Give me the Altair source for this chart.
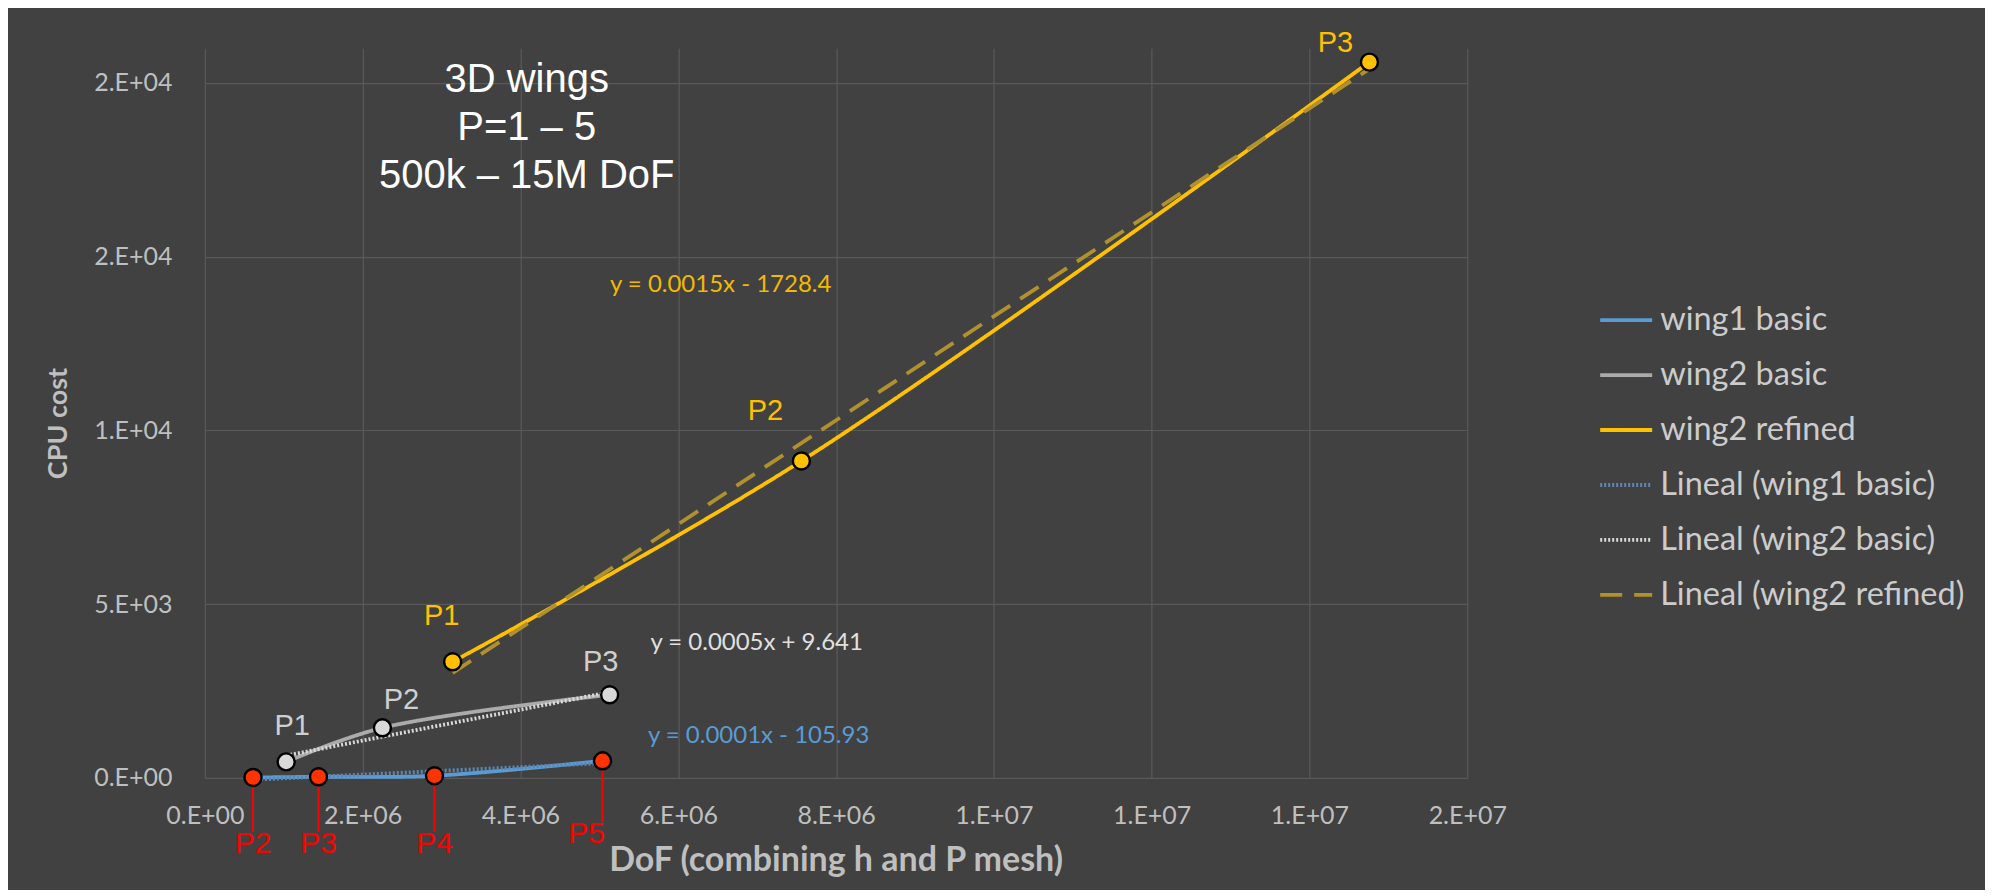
import altair as alt
import pandas as pd

# ---------------- data ----------------
series_names = ["wing1 basic", "wing2 basic", "wing2 refined"]
trend_names = ["Lineal (wing1 basic)", "Lineal (wing2 basic)", "Lineal (wing2 refined)"]

wing1_x = [0.61e6, 1.44e6, 2.91e6, 5.04e6]
wing1_y = [10, 30, 60, 490]
wing1_pts = ["P2", "P3", "P4", "P5"]

wing2_x = [1.03e6, 2.25e6, 5.13e6]
wing2_y = [460, 1440, 2390]
wing2_pts = ["P1", "P2", "P3"]

ref_x = [3.14e6, 7.56e6, 14.76e6]
ref_y = [3340, 9120, 20600]
ref_pts = ["P1", "P2", "P3"]

equations = ["y = 0.0001x - 105.93", "y = 0.0005x + 9.641", "y = 0.0015x - 1728.4"]
title_lines = ["3D wings", "P=1 \u2013 5", "500k \u2013 15M DoF"]

x_ticks = [0, 2e6, 4e6, 6e6, 8e6, 1e7, 1.2e7, 1.4e7, 1.6e7]
x_tick_labels = ["0.E+00", "2.E+06", "4.E+06", "6.E+06", "8.E+06", "1.E+07", "1.E+07", "1.E+07", "2.E+07"]
y_ticks = [0, 5000, 10000, 15000, 20000]
y_tick_labels = ["0.E+00", "5.E+03", "1.E+04", "2.E+04", "2.E+04"]

# ---------------- styling ----------------
BG = "#414141"
GRID = "#5a5a5a"
AXIS_TXT = "#BFBFBF"
legend_domain = series_names + trend_names
legend_colors = ["#5B9BD5", "#ABABAB", "#FFC000", "#5E86B3", "#D9D9D9", "#B0912E"]
legend_dash = [[1, 0], [1, 0], [1, 0], [2, 2], [2, 2], [22, 12]]
legend_width = [3.8, 3.8, 3.8, 1.5, 1.5, 3.5]
fill_colors = ["#FF3300", "#D9D9D9", "#FFC000"]

rows = []
for name, xs, ys, pts in [(series_names[0], wing1_x, wing1_y, wing1_pts),
                          (series_names[1], wing2_x, wing2_y, wing2_pts),
                          (series_names[2], ref_x, ref_y, ref_pts)]:
    for xv, yv, p in zip(xs, ys, pts):
        rows.append({"series": name, "x": xv, "y": yv, "pt": p})
df = pd.DataFrame(rows)


def label_expr(vals, labels):
    parts = []
    for v, l in zip(vals, labels):
        parts.append(f"abs(datum.value - {v}) < 1 ? '{l}'")
    return " : ".join(parts) + " : ''"


x_enc = alt.X("x:Q", scale=alt.Scale(domain=[0, 1.6e7], nice=False, zero=False),
              axis=alt.Axis(values=x_ticks, labelExpr=label_expr(x_ticks, x_tick_labels),
                            title="DoF (combining h and P mesh)", grid=True, domain=False, ticks=False,
                            labelFlush=False, labelOverlap=False,
                            labelPadding=26, labelFontSize=25, labelFont="Lato", labelColor=AXIS_TXT,
                            gridColor=GRID, gridWidth=1.2, titleFont="Lato", titleFontSize=34,
                            titleFontWeight="bold", titleColor=AXIS_TXT, titleX=631, titleY=83,
                            titleBaseline="middle", titleAlign="center"))
y_enc = alt.Y("y:Q", scale=alt.Scale(domain=[0, 21000], nice=False, zero=False),
              axis=alt.Axis(values=y_ticks, labelExpr=label_expr(y_ticks, y_tick_labels),
                            title="CPU  cost", grid=True, domain=False, ticks=False,
                            labelFlush=False, labelOverlap=False,
                            labelPadding=33, labelFontSize=25, labelFont="Lato", labelColor=AXIS_TXT,
                            gridColor=GRID, gridWidth=1.2, titleFont="Lato", titleFontSize=27,
                            titleFontWeight="bold", titleColor=AXIS_TXT, titleX=-146, titleY=375,
                            titleBaseline="middle", titleAlign="center", titleAngle=270))

leg = alt.Legend(title=None, orient="none", legendX=1394, legendY=244, symbolType="stroke",
                 symbolSize=2704, rowPadding=10, labelOffset=6, padding=0, labelFont="Lato",
                 labelFontSize=32.5, labelColor="#CCCCCC", labelLimit=600)

color_enc = alt.Color("series:N", scale=alt.Scale(domain=legend_domain, range=legend_colors), legend=leg)
dash_enc = alt.StrokeDash("series:N", scale=alt.Scale(domain=legend_domain, range=legend_dash), legend=leg)
width_enc = alt.StrokeWidth("series:N", scale=alt.Scale(domain=legend_domain, range=legend_width), legend=leg)

base = alt.Chart(df)

lines = base.mark_line(interpolate="catmull-rom").encode(
    x=x_enc, y=y_enc, color=color_enc, strokeDash=dash_enc, strokeWidth=width_enc)

trends = base.transform_regression("x", "y", groupby=["series"], method="linear").transform_calculate(
    series="'Lineal (' + datum.series + ')'"
).mark_line().encode(x=x_enc, y=y_enc, color=color_enc, strokeDash=dash_enc, strokeWidth=width_enc)

w1 = base.transform_filter(alt.datum.series == series_names[0])
w2 = base.transform_filter(alt.datum.series == series_names[1])
rf = base.transform_filter(alt.datum.series == series_names[2])

red_rules = w1.transform_filter(alt.datum.pt != "P5").mark_rule(color="#FF0000", strokeWidth=2).encode(
    x=x_enc, y=y_enc, y2=alt.value(784))
red_rule5 = w1.transform_filter(alt.datum.pt == "P5").mark_rule(color="#FF0000", strokeWidth=2).encode(
    x=x_enc, y=y_enc, y2=alt.value(774))

points = base.mark_point(shape="circle", filled=True, size=290, stroke="black", strokeWidth=2.4,
                         opacity=1).encode(
    x=x_enc, y=y_enc,
    fill=alt.Fill("series:N", scale=alt.Scale(domain=series_names, range=fill_colors), legend=None))

PFONT = "Liberation Sans"

red_labels = w1.transform_filter(alt.datum.pt != "P5").mark_text(
    font=PFONT, fontSize=30, color="#FF0000", align="center", baseline="middle").encode(
    x=x_enc, y=alt.value(796), text="pt:N")
red_label5 = w1.transform_filter(alt.datum.pt == "P5").mark_text(
    font=PFONT, fontSize=30, color="#FF0000", align="center", baseline="middle", dx=-16).encode(
    x=x_enc, y=alt.value(786), text="pt:N")


def pt_label(src, p, dx, dy, color):
    return src.transform_filter(alt.datum.pt == p).mark_text(
        font=PFONT, fontSize=29, color=color, align="center", baseline="middle", dx=dx, dy=dy).encode(
        x=x_enc, y=y_enc, text="pt:N")


GRAYTXT = "#CFCFCF"
GOLD = "#FFC000"
pt_labels = [
    pt_label(w2, "P1", 6, -36, GRAYTXT),
    pt_label(w2, "P2", 19, -28, GRAYTXT),
    pt_label(w2, "P3", -9, -33, GRAYTXT),
    pt_label(rf, "P1", -11, -46, GOLD),
    pt_label(rf, "P2", -36, -50, GOLD),
    pt_label(rf, "P3", -34, -19, GOLD),
]

eq_colors = ["#5B9BD5", "#E0E0E0", "#F2BA00"]
eq_pos = [(554, 688), (552, 595), (516, 237)]
eq_layers = []
for txt, col, (px, py) in zip(equations, eq_colors, eq_pos):
    eq_layers.append(alt.Chart(pd.DataFrame({"t": [txt]})).mark_text(
        font="Lato", fontSize=24, color=col, align="center", baseline="middle").encode(
        x=alt.value(px), y=alt.value(py), text="t:N"))

title_layer = alt.Chart(pd.DataFrame({"t": ["\n".join(title_lines)]})).mark_text(
    font="Liberation Sans", fontSize=40, color="#FFFFFF", align="center", baseline="middle",
    lineBreak="\n", lineHeight=48).encode(x=alt.value(322), y=alt.value(32), text="t:N")

chart = alt.layer(
    lines, trends, red_rules, red_rule5, points, red_labels, red_label5, *pt_labels, *eq_layers, title_layer
).properties(
    width=1263, height=730, background=BG,
    padding={"left": 197, "top": 40, "right": 518, "bottom": 112},
    autosize=alt.AutoSizeParams(type="none"),
).configure_view(stroke=None)

chart.save("out.html", embed_options={"renderer": "svg", "actions": False})
